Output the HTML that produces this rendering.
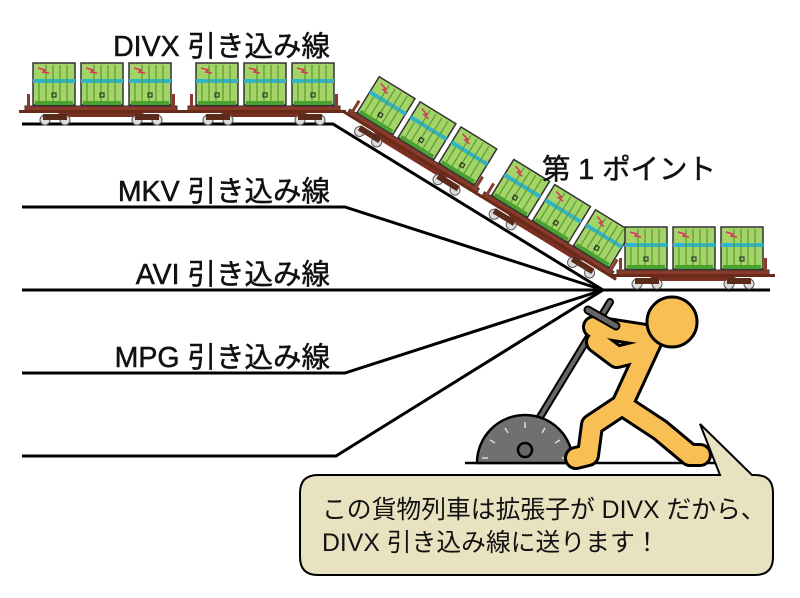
<!DOCTYPE html>
<html><head><meta charset="utf-8"><style>
html,body{margin:0;padding:0;background:#fff;}
svg{display:block;}
text{font-family:"Liberation Sans","Noto Sans CJK JP",sans-serif;}
</style></head><body>
<svg width="800" height="598" viewBox="0 0 800 598" xmlns="http://www.w3.org/2000/svg">
<defs>
<g id="ct">
  <rect x="0" y="0" width="42" height="42" fill="#a3d468" stroke="#333" stroke-width="1.5"/>
  <rect x="0" y="16" width="42" height="4" fill="#2fb4c8"/>
  <g stroke="#5f9a30" stroke-width="1.2">
    <line x1="13" y1="2" x2="13" y2="38"/><line x1="20" y1="2" x2="20" y2="38"/><line x1="27" y1="2" x2="27" y2="38"/><line x1="34" y1="2" x2="34" y2="38"/><line x1="6" y1="20" x2="6" y2="38"/>
  </g>
  <path d="M5 5 L12 7 L10 9 L16 10" stroke="#e03060" stroke-width="1.5" fill="none"/>
  <rect x="19" y="30" width="4" height="4" fill="none" stroke="#222" stroke-width="1"/>
  <rect x="2" y="38" width="38" height="4" fill="#4aa030"/>
</g>
<g id="car">
  <use href="#ct" x="8" y="-63"/><use href="#ct" x="56" y="-63"/><use href="#ct" x="104" y="-63"/>
  <rect x="0" y="-20" width="152" height="6" fill="#8a3a2a" stroke="#333" stroke-width="1"/>
  <rect x="2" y="-32" width="3" height="14" fill="#8a3a2a"/><rect x="147" y="-32" width="3" height="14" fill="#8a3a2a"/>
  <path d="M30 -14 L122 -14 L110 -9 L42 -9 Z" fill="#7a3020"/>
  <rect x="-6" y="-16" width="164" height="3" fill="#6a2a1a"/>
  <g fill="#ddd" stroke="#555" stroke-width="1">
    <circle cx="20" cy="-6" r="5"/><circle cx="40" cy="-6" r="5"/><circle cx="112" cy="-6" r="5"/><circle cx="132" cy="-6" r="5"/>
  </g>
  <rect x="18" y="-12" width="24" height="6" fill="#5a2a1a"/><rect x="110" y="-12" width="24" height="6" fill="#5a2a1a"/>
</g>
</defs>
<g stroke="#000" stroke-width="3" fill="none">
  <polyline points="22,124 333,124 603,290"/>
  <polyline points="22,207 345,207 603,290"/>
  <polyline points="22,290 603,290 770,290"/>
  <polyline points="22,373 345,373 603,290"/>
  <polyline points="22,456 336,456 603,290"/>
</g>
<use href="#car" x="25" y="126"/>
<use href="#car" x="188" y="126"/>
<g transform="translate(336,124) rotate(31.6)"><use href="#car" x="4" y="0"/><use href="#car" x="162" y="0"/></g>
<use href="#car" x="617" y="290"/>
<g font-size="28.5" fill="#111" stroke="#111" stroke-width="0.5" text-anchor="end">
  <text x="330" y="56">DIVX 引き込み線</text>
  <text x="330" y="201">MKV 引き込み線</text>
  <text x="330" y="284">AVI 引き込み線</text>
  <text x="330" y="367">MPG 引き込み線</text>
  <text x="716" y="179">第 1 ポイント</text>
</g>
<line x1="465" y1="463" x2="720" y2="463" stroke="#000" stroke-width="2.5"/>
<line x1="520" y1="450" x2="610" y2="302" stroke="#000" stroke-width="8" stroke-linecap="round"/>
<line x1="520" y1="450" x2="610" y2="302" stroke="#666" stroke-width="4" stroke-linecap="round"/>
<path d="M477 463 A48 48 0 0 1 573 463 Z" fill="#707070" stroke="#000" stroke-width="2.5"/>
<circle cx="525" cy="450" r="7" fill="#666" stroke="#000" stroke-width="2.5"/>
<g stroke="#ddd" stroke-width="1.5">
  <line x1="525" y1="422" x2="525" y2="428"/><line x1="505" y1="428" x2="508" y2="433"/><line x1="545" y1="428" x2="542" y2="433"/>
  <line x1="490" y1="440" x2="495" y2="443"/><line x1="560" y1="440" x2="555" y2="443"/>
  <line x1="482" y1="458" x2="488" y2="458"/><line x1="568" y1="458" x2="562" y2="458"/>
</g>
<g fill="none" stroke-linecap="round" stroke-linejoin="round">
  <g stroke="#000" stroke-width="24">
    <path d="M652 340 L622 405 L592 425 L588 455 L576 458"/>
    <path d="M622 405 L660 430 L690 455 L700 455"/>
    <path d="M652 336 L594 327"/>
    <path d="M641 351 L617 357 L597 342"/>
  </g>
  <g stroke="#f8bf55" stroke-width="18">
    <path d="M652 340 L622 405 L592 425 L588 455 L576 458"/>
    <path d="M622 405 L660 430 L690 455 L700 455"/>
    <path d="M652 336 L594 327"/>
    <path d="M641 351 L617 357 L597 342"/>
  </g>
</g>
<circle cx="672" cy="322" r="25" fill="#f8bf55" stroke="#000" stroke-width="3"/>
<line x1="588" y1="310" x2="616" y2="326" stroke="#000" stroke-width="9" stroke-linecap="round"/>
<line x1="588" y1="310" x2="616" y2="326" stroke="#666" stroke-width="5" stroke-linecap="round"/>
<path d="M318 475 L720 475 L700 424 L752 475 L755 475 Q773 475 773 493 L773 557 Q773 575 755 575 L318 575 Q300 575 300 557 L300 493 Q300 475 318 475 Z" fill="#e9e2c0" stroke="#000" stroke-width="2"/>
<g font-size="24.8" fill="#111">
  <text x="322" y="518">この貨物列車は拡張子が DIVX だから、</text>
  <text x="322" y="551">DIVX 引き込み線に送ります！</text>
</g>
</svg>
</body></html>
